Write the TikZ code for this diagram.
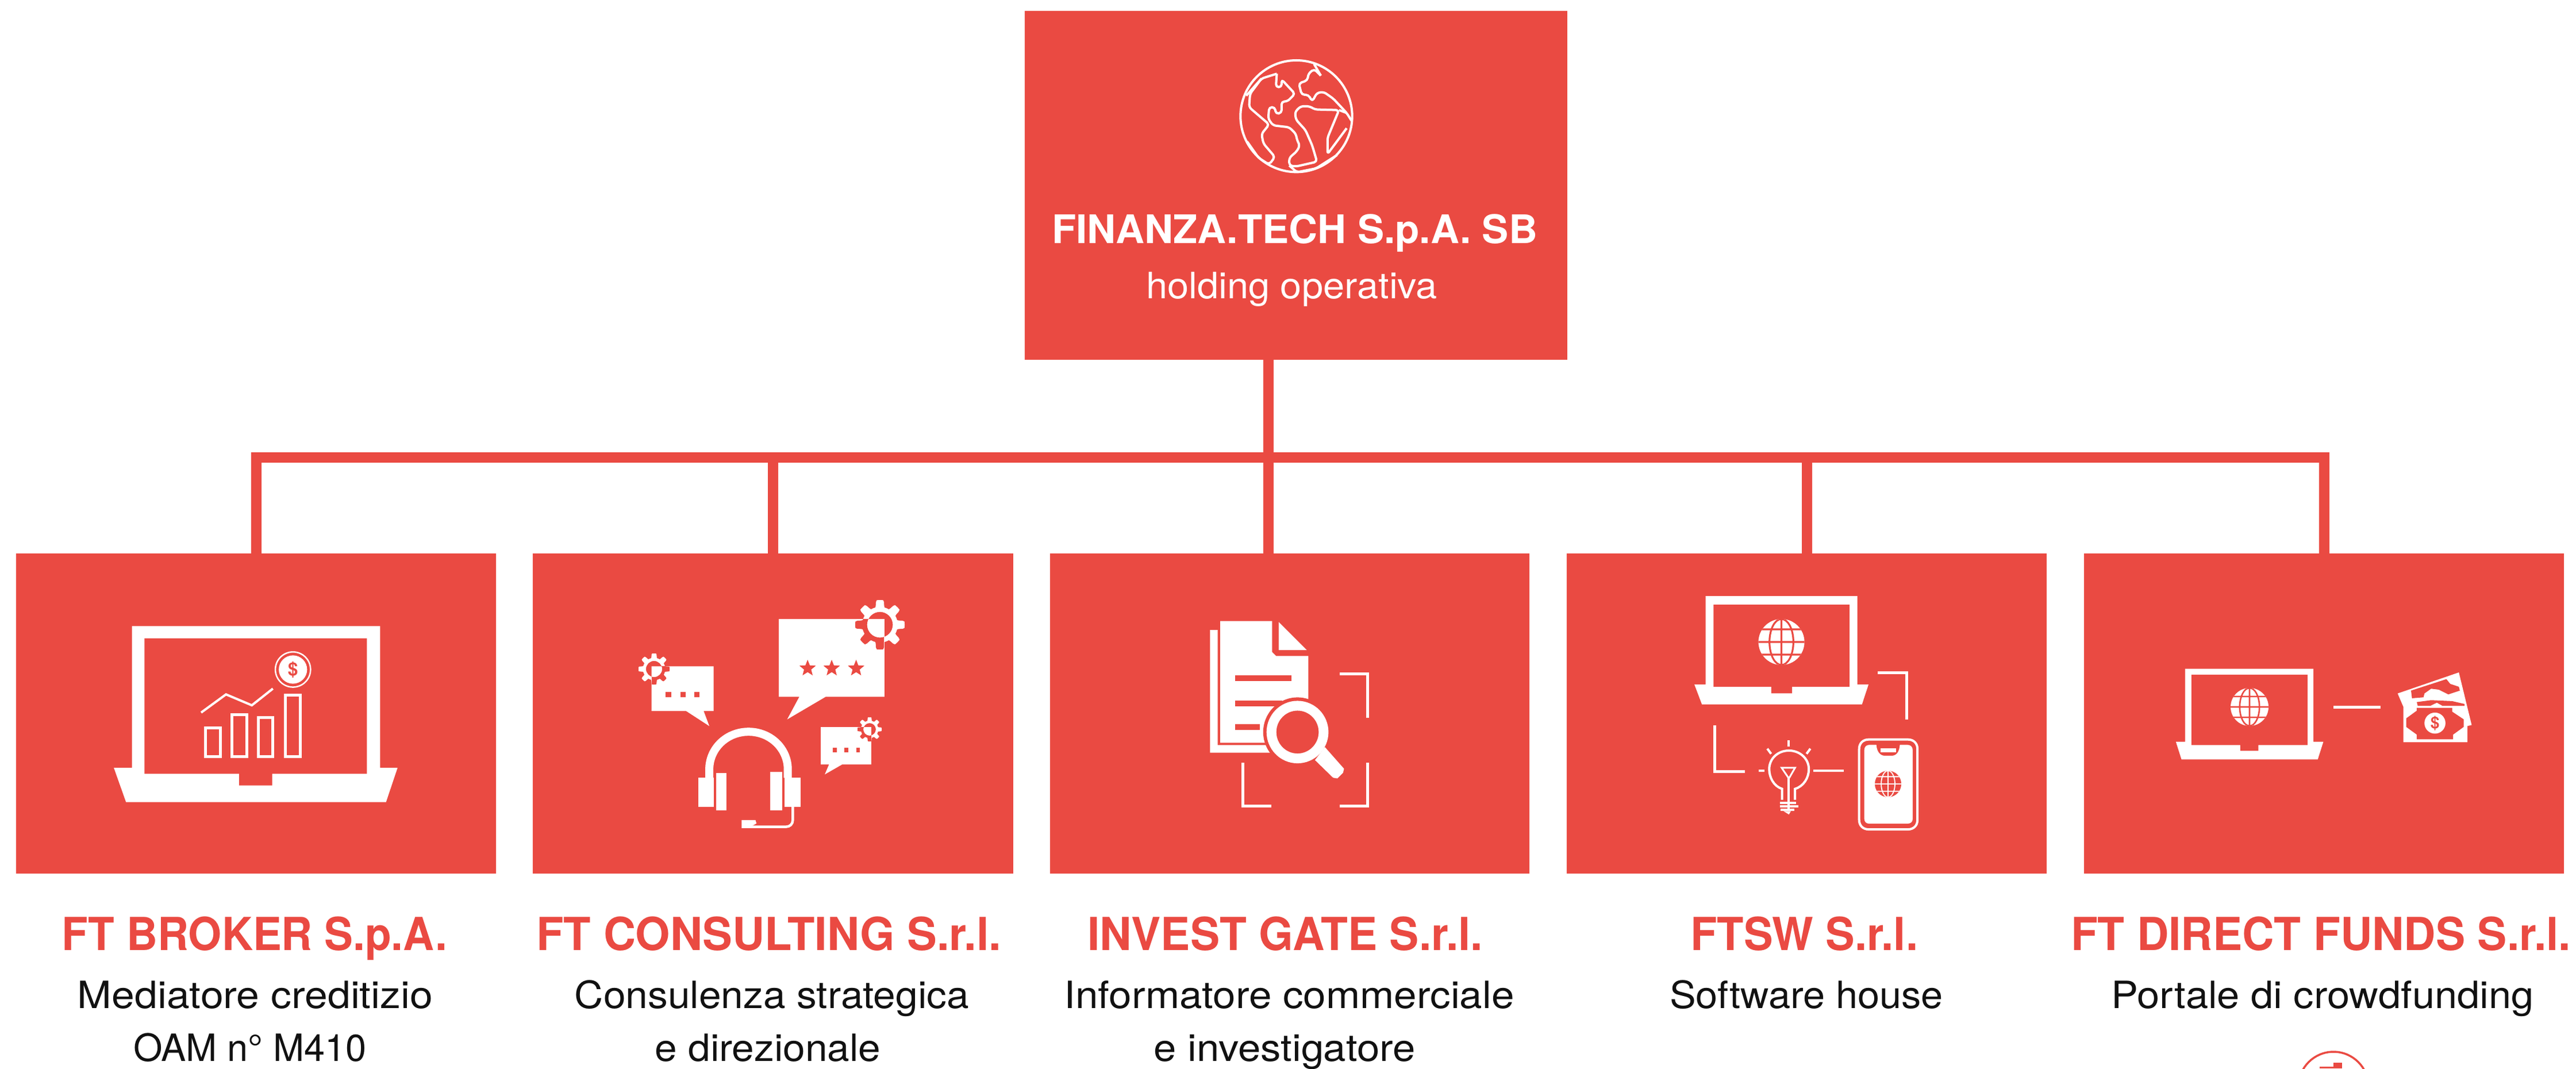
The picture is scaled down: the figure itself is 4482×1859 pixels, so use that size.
\documentclass[tikz,border=0pt]{standalone}
\usepackage{fontspec}
\usepackage{graphicx}
\setmainfont{TeX Gyre Heros}
\usetikzlibrary{shapes.geometric}
\definecolor{brand}{HTML}{EA4A42}
\definecolor{ink}{HTML}{111111}
\newlength\pxu \setlength\pxu{0.01cm}
\newcommand{\wfit}[2]{\resizebox{#1\pxu}{\height}{#2}}
% gear outline with round hole, centre (#1,#2), radius #3
\newcommand{\gearpath}[3]{plot[domain=0:360,samples=145,variable=\x] ({#1+#3*(0.86+0.14*max(-1,min(1,3*cos(8*\x))))*cos(\x)},{#2+#3*(0.86+0.14*max(-1,min(1,3*cos(8*\x))))*sin(\x)}) -- cycle (#1,#2) circle[radius={0.52*#3}]}
% gear: white outside the bubble, red inside it
\newcommand{\gearin}[7]{%
  \fill[white,even odd rule] \gearpath{#1}{#2}{#3};
  \begin{scope}\clip (#4,#5) rectangle (#6,#7);
    \fill[brand,even odd rule] \gearpath{#1}{#2}{#3};
  \end{scope}}
% web globe
\newcommand{\webglobe}[5]{%
  \fill[#4] (#1,#2) circle[radius=#3];
  \begin{scope}
    \clip (#1,#2) circle[radius=#3];
    \draw[#5,line width=#3*0.0008cm]
      ({#1-#3},#2) -- ({#1+#3},#2)
      (#1,{#2-#3}) -- (#1,{#2+#3})
      ({#1-#3},{#2-0.55*#3}) -- ({#1+#3},{#2-0.55*#3})
      ({#1-#3},{#2+0.55*#3}) -- ({#1+#3},{#2+0.55*#3})
      (#1,#2) ellipse[x radius={0.52*#3},y radius=#3];
  \end{scope}}
\tikzset{
  redbox/.style={fill=brand,draw=none,inner sep=0,outer sep=0},
  conn/.style={draw=brand,line width=0.18cm},
  ttl/.style={anchor=base,inner sep=0,text=brand,font=\fontsize{22.5}{24}\selectfont\bfseries},
  sub/.style={anchor=base,inner sep=0,text=ink,font=\fontsize{18.6}{20}\selectfont},
  zA/.style={shift={(#1)},x=0.005741cm,y=-0.005797cm},
  zT/.style={shift={(#1)},x=0.003333cm,y=-0.003333cm},
  wl/.style={draw=white,line width=#1*0.01cm,fill=none},
  wl/.default=4,
  coinsign/.style={inner sep=0,text=brand,font=\fontsize{#1}{#1}\selectfont\bfseries},
  rstar/.style={star,star points=5,star point ratio=2.3,fill=brand,inner sep=0,minimum size=0.3cm}
}
\begin{document}
\begin{tikzpicture}[x=0.01cm,y=-0.01cm]
\useasboundingbox (0,0) rectangle (4482,1859);
\fill[white] (0,0) rectangle (4482,1859);

% boxes
\node[redbox,minimum width=9.44cm,minimum height=6.07cm] (top) at (2255,322.5) {};
\node[redbox,minimum width=8.35cm,minimum height=5.57cm] (b1) at (445.5,1241.5) {};
\node[redbox,minimum width=8.36cm,minimum height=5.57cm] (b2) at (1345,1241.5) {};
\node[redbox,minimum width=8.34cm,minimum height=5.57cm] (b3) at (2244,1241.5) {};
\node[redbox,minimum width=8.35cm,minimum height=5.57cm] (b4) at (3143.5,1241.5) {};
\node[redbox,minimum width=8.35cm,minimum height=5.57cm] (b5) at (4043.5,1241.5) {};

% connectors
\coordinate (trunk) at (2207,626);
\coordinate (bus) at (2207,796);
\coordinate (drop3) at (2207,963);
\draw[conn] (trunk) -- (drop3);
\draw[conn] (bus) -| (b1.north);
\draw[conn] (bus) -| (b2.north);
\draw[conn] (bus) -| (b4.north);
\draw[conn] (bus) -| (b5.north);

% texts
\node[anchor=base,inner sep=0,text=white,font=\fontsize{19.5}{21}\selectfont\bfseries] (t0) at (2252.5,423) {\wfit{845}{FINANZA.TECH S.p.A. SB}};
\node[anchor=base,inner sep=0,text=white,font=\fontsize{18}{20}\selectfont] (t0s) at (2247.5,519) {\wfit{507}{holding operativa}};
\node[ttl] (t1) at (443,1653) {\wfit{670}{FT BROKER S.p.A.}};
\node[ttl] (t2) at (1338,1653) {\wfit{809}{FT CONSULTING S.r.l.}};
\node[ttl] (t3) at (2236,1653) {\wfit{688}{INVEST GATE S.r.l.}};
\node[ttl] (t4) at (3139,1653) {\wfit{396}{FTSW S.r.l.}};
\node[ttl] (t5) at (4038,1653) {\wfit{870}{FT DIRECT FUNDS S.r.l.}};
\node[sub] (s1a) at (444,1754) {\wfit{618}{Mediatore creditizio}};
\node[sub] (s1b) at (435,1846) {\wfit{406}{OAM n° M410}};
\node[sub] (s2a) at (1343,1754) {\wfit{686}{Consulenza strategica}};
\node[sub] (s2b) at (1336,1846) {\wfit{393}{e direzionale}};
\node[sub] (s3a) at (2243,1754) {\wfit{783}{Informatore commerciale}};
\node[sub] (s3b) at (2235,1846) {\wfit{455}{e investigatore}};
\node[sub] (s4a) at (3143,1754) {\wfit{476}{Software house}};
\node[sub] (s5a) at (4041,1754) {\wfit{735}{Portale di crowdfunding}};

% cut-off mark at the bottom edge
\begin{scope}
  \clip (0,0) rectangle (4482,1859);
  \draw[brand,line width=0.035cm] (4060,1891) circle[radius=61];
  \fill[brand] (4060,1849) rectangle (4075,1859);
  \fill[brand] (4036,1856) rectangle (4060,1859);
\end{scope}

% ---------- globe (top box)
\begin{scope}[zT={2140,90}]
  \tikzset{gl/.style={draw=white,line width=0.04cm,line join=round,fill=none,rounded corners=0.05cm}}
  \draw[gl] (347,337) circle[radius=292];
  \draw[gl] (245,115) -- (165,140) -- (105,220) -- (100,290) -- (205,380) -- (165,430) -- (175,480) -- (235,550) -- (205,590) -- (150,555) -- (90,470);
  \draw[gl] (245,115) -- (240,185) -- (270,185) -- (270,145) -- (340,220) -- (300,260) -- (270,260) -- (270,320) -- (240,325) -- (235,290) -- (205,290) -- (200,350) -- (225,385) -- (310,395) -- (345,430) -- (350,460) -- (365,490) -- (350,520) -- (310,555) -- (310,595) -- (345,600) -- (455,575) -- (430,490) -- (395,410) -- (345,355) -- (340,315) -- (370,285) -- (415,285) -- (445,302) -- (570,305) -- (510,450) -- (510,535) -- (610,400);
  \draw[gl] (570,305) -- (610,320);
  \draw[gl] (475,125) -- (440,90) -- (410,115) -- (405,150) -- (360,165) -- (375,225) -- (410,225) -- (430,260) -- (455,215) -- (490,210) -- (540,245) -- (610,320) -- (635,360);
  \draw[gl] (440,65) -- (475,125);
  \draw[gl] (165,140) -- (85,230);
  \draw[gl] (310,595) -- (350,630) -- (450,610) -- (560,540);
\end{scope}

% ---------- icon 1 : laptop with chart
\begin{scope}[zA={0,950}]
  \fill[white] (400,240) -- (1152,240) -- (1152,665) -- (1205,665) -- (1170,768) -- (382,768) -- (345,665) -- (400,665) -- cycle;
  \fill[brand] (438,277) -- (1112,277) -- (1112,683) -- (825,683) -- (825,718) -- (725,718) -- (725,683) -- (438,683) -- cycle;
\end{scope}
\begin{scope}[zT={330,1110}]
  \draw[white,line width=0.025cm] (540,165) circle[radius=92];
  \fill[white] (540,165) circle[radius=74];
  \node[coinsign=9] (coin1) at (540,165) {\$};
  \draw[wl=4,line join=miter] (60,390) -- (190,295) -- (325,352) -- (435,265);
  \draw[wl=5] (83,470) rectangle (160,620);
  \draw[wl=5] (220,400) rectangle (298,620);
  \draw[wl=5] (360,415) rectangle (435,620);
  \draw[wl=5] (500,300) rectangle (578,620);
\end{scope}

% ---------- icon 2 : headset and speech bubbles
\begin{scope}[zA={900,950}]
  \fill[white] (793,219) -- (1113,219) -- (1113,452) -- (935,452) -- (818,520) -- (855,452) -- (793,452) -- cycle;
  \fill[white] (407,361) -- (595,361) -- (595,495) -- (565,495) -- (582,540) -- (512,495) -- (407,495) -- cycle;
  \fill[white] (920,543) -- (1073,543) -- (1073,655) -- (985,655) -- (932,685) -- (945,655) -- (920,655) -- cycle;
  \foreach \dx in {458,503,545} \fill[brand] (\dx-8,437) rectangle (\dx+8,454);
  \foreach \dx in {962,998,1033} \fill[brand] (\dx-6,605) rectangle (\dx+6,619);
  \draw[white,line width=0.14cm] (582,695) -- (582,670) .. controls (582,607) and (635,557) .. (701,557) .. controls (767,557) and (820,607) .. (820,670) -- (820,695);
  \fill[white] (548,695) rectangle (595,782);
  \fill[white] (602,680) rectangle (634,792);
  \fill[white] (767,678) rectangle (803,792);
  \fill[white] (810,695) rectangle (858,782);
  \draw[white,line width=0.045cm] (835,782) -- (835,822) .. controls (835,834) and (826,842) .. (815,842) -- (700,842);
  \fill[white] (680,822) -- (722,822) -- (725,832) -- (700,846) -- (680,846) -- cycle;
  \node[rstar] (st1) at (880,367) {};
  \node[rstar] (st2) at (953,367) {};
  \node[rstar] (st3) at (1027,367) {};
\end{scope}
\gearin{1531}{1087}{43}{1355}{1077}{1538}{1212}
\gearin{1138}{1164}{27}{1134}{1159}{1242}{1237}
\gearin{1513}{1269}{21}{1428}{1265}{1516}{1330}

% ---------- icon 3 : document and magnifier
\begin{scope}[zA={1800,950}]
  \fill[white] (563,225) -- (720,225) -- (720,318) -- (732,330) -- (830,330) -- (830,590) -- (563,590) -- cycle;
  \fill[white] (740,228) -- (825,312) -- (740,312) -- cycle;
  \fill[white] (532,252) -- (555,252) -- (555,597) -- (720,597) -- (720,620) -- (532,620) -- cycle;
  \fill[brand] (608,387) rectangle (778,405);
  \fill[brand] (608,463) rectangle (750,480);
  \fill[brand] (608,535) rectangle (682,552);
  \fill[brand] (797,558) ellipse[x radius=104,y radius=104];
  \draw[white,line width=0.17cm] (797,558) ellipse[x radius=79,y radius=79];
  \fill[white] (850,642) -- (880,603) -- (938,668) -- (935,680) -- (918,697) -- (905,695) -- cycle;
  \draw[wl=5] (925,384) -- (1010,384) -- (1010,515);
  \draw[wl=5] (1010,650) -- (1010,780) -- (925,780);
  \draw[wl=5] (632,650) -- (632,780) -- (717,780);
\end{scope}

% ---------- icon 4 : laptop, bulb, phone
\begin{scope}[zA={2700,950}]
  \fill[white] (466,150) -- (926,150) -- (926,415) -- (960,415) -- (940,475) -- (455,475) -- (432,415) -- (466,415) -- cycle;
  \fill[brand] (490,176) -- (902,176) -- (902,422) -- (728,422) -- (728,442) -- (665,442) -- (665,422) -- (490,422) -- cycle;
  \draw[wl=5] (988,380) -- (1076,380) -- (1076,520);
  \draw[wl=5] (494,537) -- (494,677) -- (585,677);
\end{scope}
\webglobe{3099.5}{1117}{40}{white}{brand}
\begin{scope}[zT={3030,1270}]
  \draw[wl=4] (90,213) -- (120,213);
  \draw[wl=4] (375,213) -- (535,213);
  \draw[wl=4] (247,55) -- (247,88);
  \draw[wl=4] (135,98) -- (155,125);
  \draw[wl=4] (360,98) -- (340,125);
  \draw[wl=4] (212,365) -- (212,308) .. controls (170,295) and (145,250) .. (145,205) .. controls (145,150) and (190,108) .. (248,108) .. controls (305,108) and (352,150) .. (352,205) .. controls (352,250) and (325,295) .. (280,308) -- (280,365);
  \draw[wl=3] (210,198) -- (280,198) -- (250,250) -- (245,250) -- cycle;
  \draw[wl=4] (247,250) -- (247,425);
  \draw[wl=4] (200,382) -- (285,382);
  \draw[wl=4] (200,400) -- (298,400);
  \draw[wl=4] (205,417) -- (275,417);
  \fill[white] (220,425) -- (248,442) -- (258,425) -- cycle;
  \draw[wl=4] (615,100) .. controls (615,70) and (635,50) .. (665,50) -- (870,50) .. controls (900,50) and (920,70) .. (920,100) -- (920,470) .. controls (920,500) and (900,520) .. (870,520) -- (665,520) .. controls (635,520) and (615,500) .. (615,470) -- cycle;
  \fill[white] (642,105) .. controls (642,90) and (652,78) .. (668,78) -- (705,78) .. controls (708,115) and (725,135) .. (750,135) -- (785,135) .. controls (810,135) and (825,115) .. (828,78) -- (868,78) .. controls (885,78) and (895,90) .. (895,105) -- (895,465) .. controls (895,480) and (885,490) .. (868,490) -- (668,490) .. controls (652,490) and (642,480) .. (642,465) -- cycle;
  \fill[white] (728,95) rectangle (808,118);
\end{scope}
\webglobe{3285}{1364}{23}{brand}{white}

% ---------- icon 5 : laptop and banknotes
\begin{scope}[zA={3582,950}]
  \fill[white] (383,368) -- (772,368) -- (772,587) -- (802,587) -- (785,640) -- (372,640) -- (355,587) -- (383,587) -- cycle;
  \fill[brand] (402,386) -- (754,386) -- (754,597) -- (605,597) -- (605,614) -- (550,614) -- (550,597) -- (402,597) -- cycle;
  \draw[wl=5] (833,484) -- (976,484);
\end{scope}
\webglobe{3914}{1230}{33}{white}{brand}
\begin{scope}[zT={4150,1150}]
  \fill[white] (65,170) -- (385,60) -- (452,335) -- (430,340) -- (430,425) -- (95,425) -- (95,240) -- cycle;
  \fill[brand] (135,155) -- (320,95) -- (340,120) -- (385,135) -- (390,155) -- (330,175) -- (280,150) -- (240,145) -- (205,170) -- (200,190) -- (140,195) -- cycle;
  \fill[brand] (165,215) -- (240,205) -- (350,210) -- (415,225) -- (415,235) -- (300,235) -- (270,218) -- (235,235) -- (170,235) -- cycle;
  \fill[brand] (110,300) -- (165,260) -- (165,245) -- (350,245) -- (350,265) -- (410,305) -- (410,345) -- (355,385) -- (355,410) -- (165,410) -- (165,385) -- (110,345) -- cycle;
  \fill[white] (260,325) circle[radius=55];
  \node[coinsign=8] (coin2) at (260,325) {\$};
\end{scope}
\end{tikzpicture}
\end{document}
